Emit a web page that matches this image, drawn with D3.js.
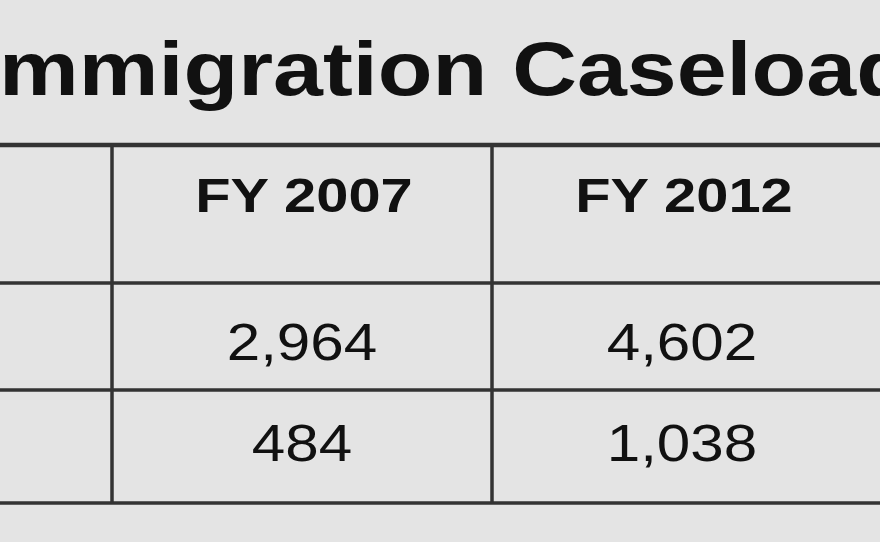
<!DOCTYPE html>
<html><head><meta charset="utf-8">
<script src="https://cdn.jsdelivr.net/npm/d3@7"></script>
<style>body{margin:0;background:#e4e4e4}</style></head>
<body><svg id="c" width="880" height="542"></svg>
<script>
const title = "Immigration Caseload";
const columns = ["FY 2007", "FY 2012"];
const rowsFY2007 = [2964, 484];
const rowsFY2012 = [4602, 1038];
const values = [rowsFY2007, rowsFY2012];

const svg = d3.select("#c");
const W = 880, H = 542;
const FF = "Liberation Sans, Arial, sans-serif";
svg.append("rect").attr("width", W).attr("height", H).attr("fill", "#e4e4e4");

function widen(sel, k) {
  const w = sel.node().getComputedTextLength();
  sel.attr("textLength", w * k).attr("lengthAdjust", "spacingAndGlyphs");
  return w * k;
}

const t = svg.append("text").attr("y", 95).attr("font-family", FF)
  .attr("font-weight", "bold").attr("font-size", 76).attr("fill", "#111").text(title);
const tmp = svg.append("text").attr("font-family", FF)
  .attr("font-weight", "bold").attr("font-size", 76).text("I");
const iw = tmp.node().getComputedTextLength() * 1.18; tmp.remove();
widen(t, 1.18);
t.attr("x", -iw - 1);

const x = d3.scaleBand().domain(["label", ...columns]).range([-268, 872]);
const rowBounds = [145, 283, 390, 503];
const lineColor = "#333";
rowBounds.forEach((y, i) => svg.append("line").attr("x1", 0).attr("x2", W).attr("y1", y).attr("y2", y)
  .attr("stroke", lineColor).attr("stroke-width", i === 0 ? 4.5 : 3.5));
columns.forEach(c => svg.append("line").attr("x1", x(c)).attr("x2", x(c)).attr("y1", rowBounds[0]).attr("y2", rowBounds[3])
  .attr("stroke", lineColor).attr("stroke-width", 3.5));

const fmt = d3.format(",");
const rowY = [342, 443];
function centered(cx, y, txt, size, bold) {
  const s = svg.append("text").attr("y", y).attr("dy", "0.35em").attr("font-family", FF)
    .attr("font-weight", bold ? "bold" : "normal").attr("font-size", size).attr("fill", "#111").text(txt);
  const w = widen(s, 1.18);
  s.attr("x", cx - w / 2);
}
columns.forEach((c, ci) => {
  const cx = x(c) + x.bandwidth() / 2;
  centered(cx + 2, 195, c, 49, true);
  values[ci].forEach((v, ri) => centered(cx, rowY[ri], fmt(v), 51, false));
});
</script></body></html>
